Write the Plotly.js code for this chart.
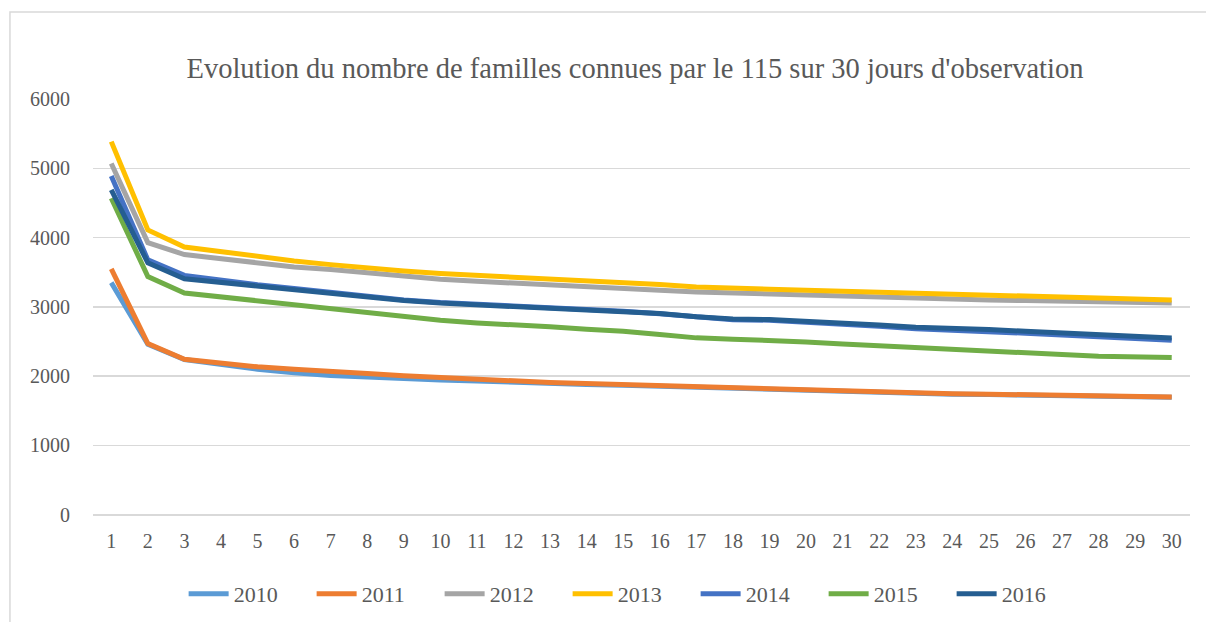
<!DOCTYPE html>
<html>
<head>
<meta charset="utf-8">
<script src="https://cdn.plot.ly/plotly-3.0.1.min.js"></script>
<style>html,body{margin:0;padding:0;background:#fff;}#chart{width:1206px;height:622px;}</style>
</head>
<body>
<div id="chart"></div>
<script>
const days = Array.from({length: 30}, (_, i) => i + 1);
const seriesNames = ["2010", "2011", "2012", "2013", "2014", "2015", "2016"];
const y2010 = [3350, 2460, 2240, 2170, 2100, 2050, 2010, 1990, 1960, 1945, 1930, 1910, 1890, 1880, 1870, 1855, 1835, 1820, 1805, 1795, 1780, 1760, 1748, 1740, 1735, 1725, 1718, 1710, 1700, 1695];
const y2011 = [3550, 2470, 2245, 2183, 2135, 2100, 2062, 2038, 2005, 1976, 1957, 1933, 1909, 1894, 1880, 1861, 1837, 1822, 1812, 1798, 1784, 1764, 1750, 1748, 1740, 1731, 1721, 1712, 1708, 1700];
const y2012 = [5070, 3928, 3755, 3697, 3625, 3577, 3538, 3490, 3447, 3399, 3370, 3341, 3312, 3288, 3264, 3240, 3216, 3200, 3190, 3178, 3159, 3144, 3130, 3111, 3101, 3091, 3082, 3070, 3062, 3055];
const y2013 = [5385, 4110, 3865, 3793, 3721, 3663, 3610, 3560, 3519, 3481, 3457, 3433, 3397, 3370, 3351, 3322, 3288, 3264, 3255, 3240, 3226, 3207, 3188, 3183, 3168, 3154, 3144, 3135, 3118, 3100];
const y2014 = [4890, 3678, 3455, 3385, 3320, 3265, 3210, 3148, 3100, 3062, 3038, 3012, 2988, 2962, 2938, 2900, 2850, 2815, 2808, 2785, 2760, 2722, 2685, 2668, 2648, 2620, 2595, 2570, 2545, 2520];
const y2015 = [4568, 3438, 3200, 3144, 3072, 3024, 2966, 2918, 2856, 2808, 2769, 2745, 2712, 2678, 2649, 2601, 2553, 2534, 2519, 2495, 2466, 2438, 2409, 2380, 2361, 2341, 2312, 2288, 2278, 2269];
const y2016 = [4688, 3635, 3405, 3350, 3300, 3250, 3200, 3140, 3093, 3055, 3030, 3008, 2984, 2958, 2934, 2905, 2858, 2824, 2817, 2795, 2772, 2740, 2708, 2697, 2673, 2649, 2625, 2606, 2580, 2550];
const yTickVals = [0, 1000, 2000, 3000, 4000, 5000, 6000];

const values = [y2010, y2011, y2012, y2013, y2014, y2015, y2016];
const colors = ["#5B9BD5", "#ED7D31", "#A5A5A5", "#FFC000", "#4472C4", "#70AD47", "#255E91"];

const traces = seriesNames.map((name, i) => ({
  x: days, y: values[i], name: name, type: "scatter", mode: "lines",
  line: {color: colors[i], width: 5}, hoverinfo: "x+y+name"
}));

const serif = "Liberation Serif, Times New Roman, serif";
const layout = {
  width: 1206, height: 622,
  margin: {l: 93, r: 16, t: 99, b: 107, autoexpand: false},
  paper_bgcolor: "#ffffff", plot_bgcolor: "#ffffff",
  title: {text: "Evolution du nombre de familles connues par le 115 sur 30 jours d'observation",
          font: {family: serif, size: 28.5, color: "#595959"},
          x: 0.5265, xanchor: "center", y: 0.89, yref: "container", yanchor: "middle"},
  xaxis: {range: [0.5, 30.5], tickvals: days, ticktext: days.map(String),
          showgrid: false, zeroline: false, showline: false,
          ticks: "outside", ticklen: 8, tickcolor: "rgba(0,0,0,0)",
          tickfont: {family: serif, size: 20, color: "#595959"}},
  yaxis: {range: [-3, 6000], tickvals: yTickVals, showgrid: true, gridcolor: "#D9D9D9", gridwidth: 1.5,
          zeroline: true, zerolinecolor: "#D9D9D9", zerolinewidth: 1.5, showline: false,
          ticks: "outside", ticklen: 18, tickcolor: "rgba(0,0,0,0)",
          tickfont: {family: serif, size: 20, color: "#595959"}},
  legend: {orientation: "h", x: 0.491, xanchor: "center", y: -0.19, yanchor: "middle",
           font: {family: serif, size: 22, color: "#595959"}, itemwidth: 40,
           entrywidth: 73, traceorder: "normal"},
  shapes: [{type: "rect", xref: "paper", yref: "paper",
            x0: -0.0757, x1: 1.03, y0: -0.3, y1: 1.209,
            line: {color: "#D9D9D9", width: 1.5}, fillcolor: "rgba(0,0,0,0)", layer: "below"}],
  showlegend: true
};

Plotly.newPlot("chart", traces, layout, {displayModeBar: false, staticPlot: true});
</script>
</body>
</html>
